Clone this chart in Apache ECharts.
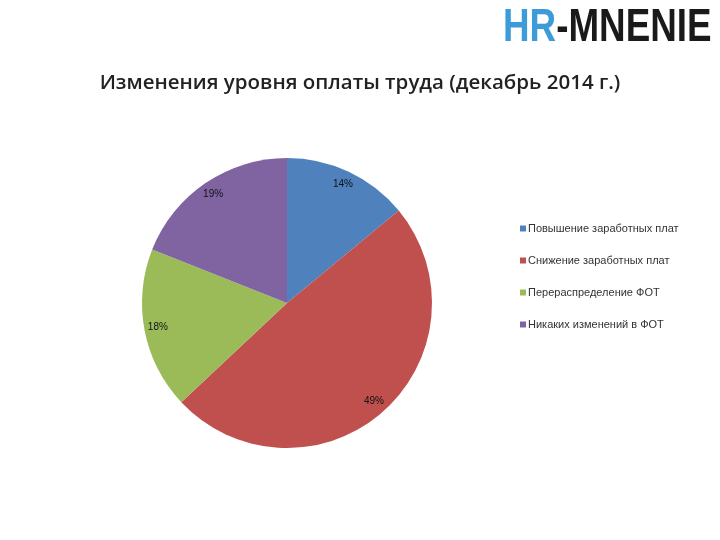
<!DOCTYPE html>
<html><head><meta charset="utf-8">
<script src="https://cdn.jsdelivr.net/npm/echarts@6/dist/echarts.min.js"></script>
<style>html,body{margin:0;padding:0;background:#fff}#c{width:720px;height:540px}</style>
</head><body><div id="c"></div>
<script>
const categories = ['Повышение заработных плат', 'Снижение заработных плат', 'Перераспределение ФОТ', 'Никаких изменений в ФОТ'];
const values = [14, 49, 18, 19];
const colors = ['#4F81BD', '#C0504D', '#9BBB59', '#8064A2'];
const titleText = 'Изменения уровня оплаты труда (декабрь 2014 г.)';

const data = categories.map((n, i) => ({ name: n, value: values[i], itemStyle: { color: colors[i] } }));
const chart = echarts.init(document.getElementById('c'));
chart.setOption({
  animation: false,
  title: {
    text: titleText, left: 'center', top: 68,
    textStyle: { fontFamily: 'Open Sans', fontSize: 20.5, fontWeight: 600, color: '#222' }
  },
  legend: {
    orient: 'vertical', left: 515, top: 218, itemWidth: 6, itemHeight: 6, itemGap: 21,
    icon: 'rect', data: categories,
    textStyle: { fontFamily: 'Liberation Sans', fontSize: 11, color: '#333', padding: [0,0,0,-3] }
  },
  graphic: [{
    type: 'text', left: 503, top: 5, scaleX: 0.8,
    style: {
      rich: {
        a: { fill: '#3D9BD8', fontFamily: 'Liberation Sans', fontWeight: 'bold', fontSize: 46 },
        b: { fill: '#1a1a1a', fontFamily: 'Liberation Sans', fontWeight: 'bold', fontSize: 46 }
      },
      text: '{a|HR}{b|-MNENIE}'
    }
  }],
  series: [{
    type: 'pie', center: [287, 303], radius: [0, 145], startAngle: 90, clockwise: true,
    label: { show: false }, labelLine: { show: false }, silent: true,
    data: data
  }, {
    type: 'pie', center: [287, 303], radius: [112, 145], startAngle: 90, clockwise: true,
    itemStyle: { color: 'transparent' }, silent: true, legendHoverLink: false,
    label: { show: true, position: 'inside', formatter: '{d}%', fontFamily: 'Liberation Sans', fontSize: 10, color: '#111' },
    labelLine: { show: false },
    data: categories.map((n, i) => ({ name: n + ' ', value: values[i], itemStyle: { color: 'transparent' } }))
  }]
});
</script></body></html>
